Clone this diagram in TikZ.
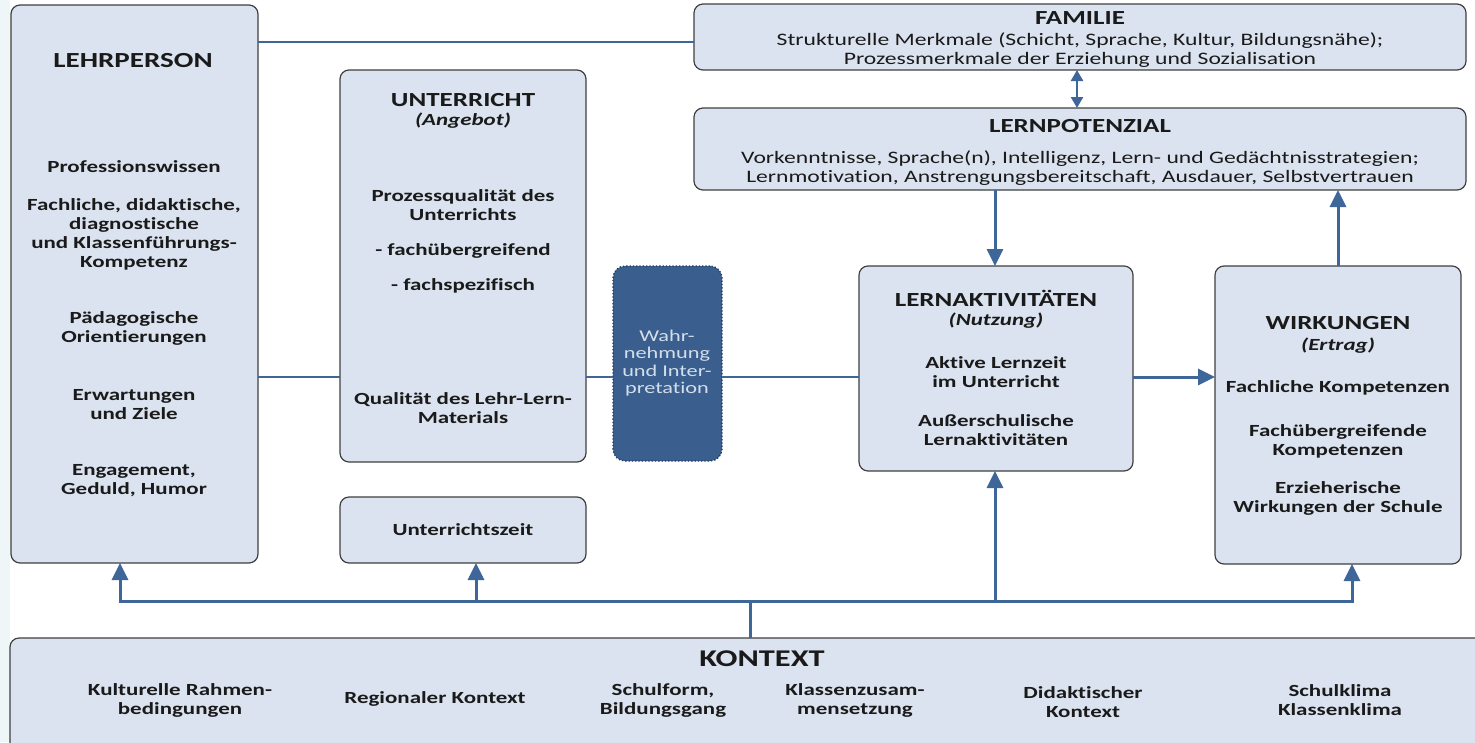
\documentclass[tikz,border=0pt]{standalone}
\usepackage{fontspec}
\setmainfont{Carlito}[FakeStretch=1.35,Ligatures=NoCommon]
\usetikzlibrary{arrows.meta,calc}
\definecolor{boxfill}{HTML}{DAE3EF}
\definecolor{boxline}{HTML}{404040}
\definecolor{arr}{HTML}{3E6698}
\definecolor{wbox}{HTML}{3A5E8D}
\definecolor{wbord}{HTML}{22385A}
\definecolor{wtext}{HTML}{D3DEEC}
\definecolor{txtc}{HTML}{1A1A1A}
\definecolor{edge}{HTML}{EEF6F8}
\begin{document}
\begin{tikzpicture}[x=1pt,y=-1pt,
  box/.style={draw=boxline, line width=1.2pt, fill=boxfill, rounded corners=9pt, inner sep=0pt, outer sep=0pt, anchor=north west},
  wboxst/.style={draw=wbord, dotted, line width=1.3pt, fill=wbox, rounded corners=12pt, inner sep=0pt, outer sep=0pt, anchor=north west},
  ttl/.style={font=\fontsize{20}{22}\selectfont\bfseries, text=txtc, inner sep=0pt},
  bd/.style={font=\fontsize{17}{19}\selectfont\bfseries, align=center, text=txtc, inner sep=0pt},
  itx/.style={font=\fontsize{17}{19}\selectfont\bfseries\itshape, text=txtc, inner sep=0pt},
  rg/.style={font=\fontsize{17.5}{19}\selectfont, align=center, text=txtc, inner sep=0pt},
  wt/.style={font=\fontsize{16.5}{17.5}\selectfont, align=center, text=wtext, inner sep=0pt},
  conn/.style={draw=arr, line width=3pt},
  thinconn/.style={draw=arr, line width=2.2pt},
  tip/.style={-{Triangle[width=16pt,length=17pt]}},
  dtip/.style={{Triangle[width=12pt,length=11pt]}-{Triangle[width=12pt,length=11pt]}}
]
\useasboundingbox (0,0) rectangle (1475,742);
\clip (0,0) rectangle (1475,742);
\fill[white] (0,0) rectangle (1475,742);
\fill[edge] (0,0) rectangle (10,742);

% boxes
\node[box, minimum width=247pt, minimum height=558pt] (lehr) at (11,5) {};
\node[box, minimum width=246pt, minimum height=392pt] (unt) at (340,70) {};
\node[box, minimum width=246pt, minimum height=66pt] (uzeit) at (340,497) {};
\node[wboxst, minimum width=109pt, minimum height=195pt] (wahr) at (613,266) {};
\node[box, minimum width=772pt, minimum height=66pt] (fam) at (694,4) {};
\node[box, minimum width=772pt, minimum height=82pt] (lpot) at (694,108) {};
\node[box, minimum width=274pt, minimum height=205pt] (lakt) at (859,266) {};
\node[box, minimum width=246pt, minimum height=298pt] (wirk) at (1215,266) {};
\node[box, minimum width=1480pt, minimum height=120pt] (kon) at (10,638) {};

% LEHRPERSON texts
\node[ttl, font=\fontsize{21.5}{22}\selectfont\bfseries] (tlehr) at (133,61) {LEHRPERSON};
\node[bd] (l1) at (134,167) {Professionswissen};
\node[bd] (l2) at (134,234) {Fachliche, didaktische,\\diagnostische\\und Klassenführungs-\\Kompetenz};
\node[bd] (l3) at (134,328) {Pädagogische\\Orientierungen};
\node[bd] (l4) at (134,405) {Erwartungen\\und Ziele};
\node[bd] (l5) at (134,481) {Engagement,\\Geduld, Humor};

% UNTERRICHT texts
\node[ttl] (tunt) at (463,100) {UNTERRICHT};
\node[itx] (u0) at (463,121) {(Angebot)};
\node[bd] (u1) at (463,205) {Prozessqualität des\\Unterrichts};
\node[bd] (u2) at (463,251) {- fachübergreifend};
\node[bd] (u3) at (463,286) {- fachspezifisch};
\node[bd] (u4) at (463,408) {Qualität des Lehr-Lern-\\Materials};
\node[bd] (uz) at (463,530) {Unterrichtszeit};

% Wahrnehmung
\node[wt] (w1) at (667,363) {Wahr-\\nehmung\\und Inter-\\pretation};

% FAMILIE
\node[ttl] (tfam) at (1080,18) {FAMILIE};
\node[rg] (f1) at (1080,50) {Strukturelle Merkmale (Schicht, Sprache, Kultur, Bildungsnähe);\\Prozessmerkmale der Erziehung und Sozialisation};

% LERNPOTENZIAL
\node[ttl] (tlp) at (1080,126) {LERNPOTENZIAL};
\node[rg] (p1) at (1080,168) {Vorkenntnisse, Sprache(n), Intelligenz, Lern- und Gedächtnisstrategien;\\Lernmotivation, Anstrengungsbereitschaft, Ausdauer, Selbstvertrauen};

% LERNAKTIVITAETEN
\node[ttl] (tla) at (996,298) {LERNAKTIVITÄTEN};
\node[itx] (a0) at (996,321) {(Nutzung)};
\node[bd] (a1) at (996,372) {Aktive Lernzeit\\im Unterricht};
\node[bd] (a2) at (996,430) {Außerschulische\\Lernaktivitäten};

% WIRKUNGEN
\node[ttl] (twi) at (1338,323) {WIRKUNGEN};
\node[itx] (e0) at (1338,346) {(Ertrag)};
\node[bd] (e1) at (1338,388) {Fachliche Kompetenzen};
\node[bd] (e2) at (1338,441) {Fachübergreifende\\Kompetenzen};
\node[bd] (e3) at (1338,498) {Erzieherische\\Wirkungen der Schule};

% KONTEXT
\node[ttl, font=\fontsize{24}{26}\selectfont\bfseries] (tkon) at (762,659) {KONTEXT};
\node[bd] (k1) at (180,700) {Kulturelle Rahmen-\\bedingungen};
\node[bd] (k2) at (435,699) {Regionaler Kontext};
\node[bd] (k3) at (663,700) {Schulform,\\Bildungsgang};
\node[bd] (k4) at (855,700) {Klassenzusam-\\mensetzung};
\node[bd] (k5) at (1083,702) {Didaktischer\\Kontext};
\node[bd] (k6) at (1340,700) {Schulklima\\Klassenklima};

% connectors
\coordinate (r1) at (0,42);
\coordinate (r2) at (0,377);
\draw[thinconn] (lehr.east |- r1) -- (fam.west |- r1);
\draw[thinconn] (lehr.east |- r2) -- (unt.west |- r2);
\draw[thinconn] (unt.east |- r2) -- (wahr.west |- r2);
\draw[thinconn] (wahr.east |- r2) -- (lakt.west |- r2);
\draw[conn,tip] (lakt.east |- r2) -- (wirk.west |- r2);

\coordinate (c1) at (1077,0);
\coordinate (c2) at (995,0);
\coordinate (c3) at (1338,0);
\draw[thinconn,line width=2.5pt,dtip] (fam.south -| c1) -- (lpot.north -| c1);
\draw[conn,tip] (lpot.south -| c2) -- (lakt.north -| c2);
\draw[conn,tip] (wirk.north -| c3) -- (lpot.south -| c3);

\coordinate (b0) at (750,601);
\coordinate (b1) at (120,601);
\coordinate (b2) at (476,601);
\coordinate (b3) at (995,601);
\coordinate (b4) at (1352,601);
\draw[conn] (kon.north -| b0) -- (b0);
\draw[conn,tip] (b0) -- (b1) -- (lehr.south -| b1);
\draw[conn,tip] (b0) -- (b4) -- (wirk.south -| b4);
\draw[conn,tip] (b2) -- (uzeit.south -| b2);
\draw[conn,tip] (b3) -- (lakt.south -| b3);
\end{tikzpicture}
\end{document}
